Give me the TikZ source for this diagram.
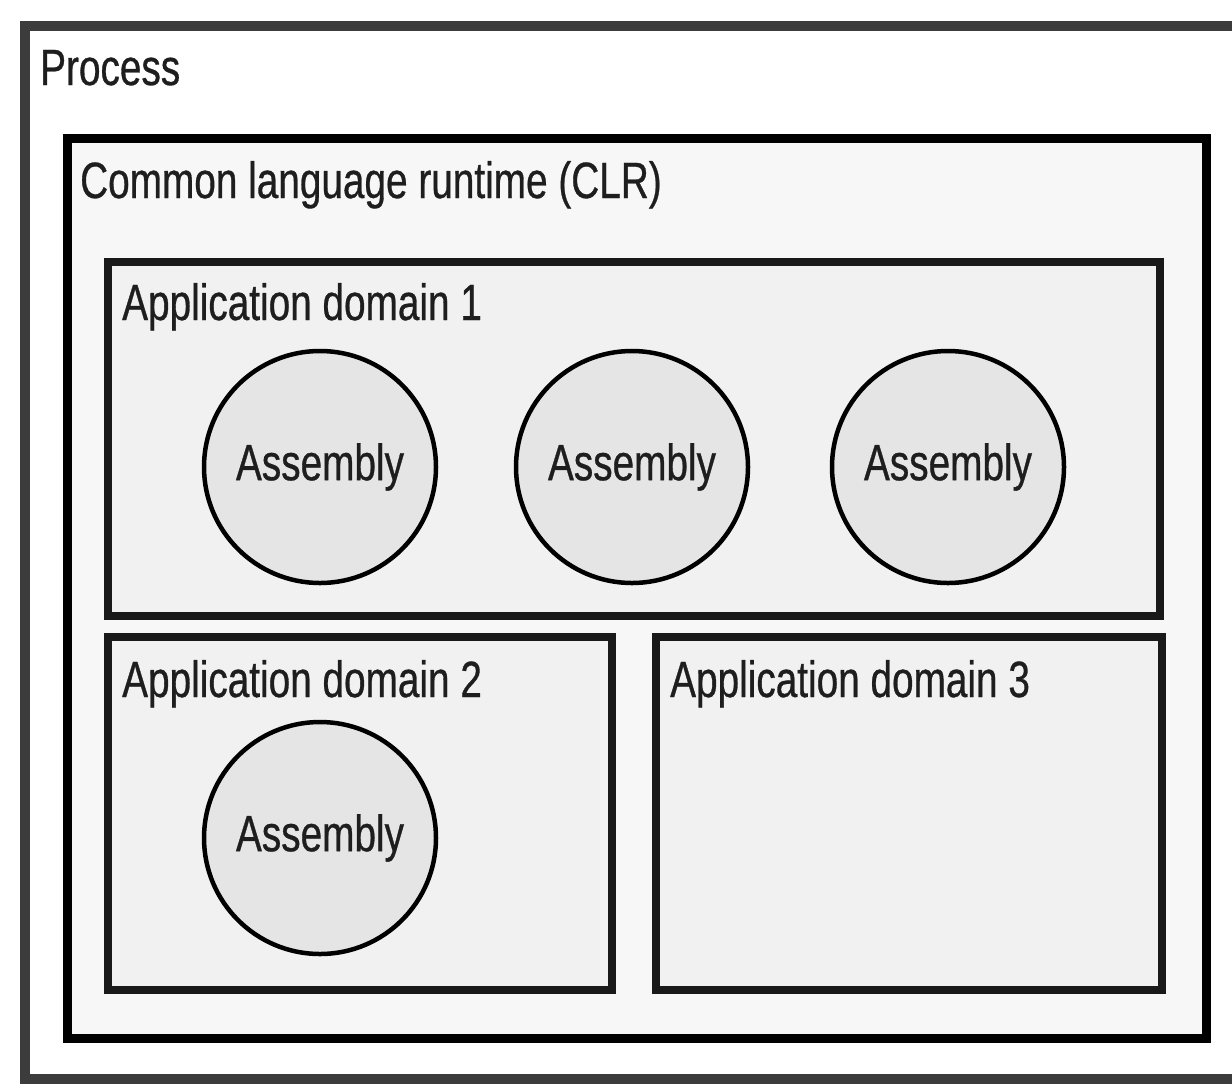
\documentclass[tikz,border=0pt]{standalone}
\usepackage{fontspec}
\setmainfont{Liberation Sans}[FakeStretch=0.76, FakeBold=0.6]
\definecolor{procline}{HTML}{3C3C3C}
\definecolor{clrfill}{HTML}{F7F7F7}
\definecolor{adfill}{HTML}{F1F1F1}
\definecolor{asmfill}{HTML}{E5E5E5}
\definecolor{ink}{HTML}{1E1E1E}
\begin{document}
\begin{tikzpicture}[x=1pt,y=-1pt,
  every node/.style={font=\fontsize{51}{60}\selectfont, text=ink},
  frame/.style={draw, rectangle, inner sep=0pt, outer sep=0pt, anchor=north west},
  procbox/.style={frame, draw=procline, line width=10pt, fill=white},
  clrbox/.style={frame, draw=black, line width=9pt, fill=clrfill},
  adbox/.style={frame, draw=black!90, line width=8pt, fill=adfill},
  asm/.style={draw=black, circle, line width=4.5pt, fill=asmfill, minimum size=232pt, inner sep=0pt},
  lbl/.style={anchor=base west, inner sep=0pt}]
  \useasboundingbox (0,0) rectangle (1232,1085);
  \clip (0,0) rectangle (1232,1085);
  \fill[white] (0,0) rectangle (1232,1085);

  % process frame (runs past the right edge)
  \node[procbox, minimum width=1240pt, minimum height=1053pt] (proc) at (25,26) {};
  \node[lbl] (proclbl) at (40,85) {Process};

  % runtime frame
  \node[clrbox, minimum width=1139pt, minimum height=900pt] (clr) at (67,138) {};
  \node[lbl] (clrlbl) at (80,198) {Common language runtime (CLR)};

  % application domains
  \node[adbox, minimum width=1052pt, minimum height=354pt] (ad1) at (108,262) {};
  \node[lbl] (ad1lbl) at (122,320) {Application domain 1};

  \node[adbox, minimum width=504pt, minimum height=353pt] (ad2) at (108,637) {};
  \node[lbl] (ad2lbl) at (122,697) {Application domain 2};

  \node[adbox, minimum width=506pt, minimum height=353pt] (ad3) at (656,637) {};
  \node[lbl] (ad3lbl) at (670,697) {Application domain 3};

  % assemblies
  \node[asm] (asm1) at (320,467) {Assembly};
  \node[asm] (asm2) at (632,467) {Assembly};
  \node[asm] (asm3) at (948,467) {Assembly};
  \node[asm] (asm4) at (320,838) {Assembly};
\end{tikzpicture}
\end{document}
